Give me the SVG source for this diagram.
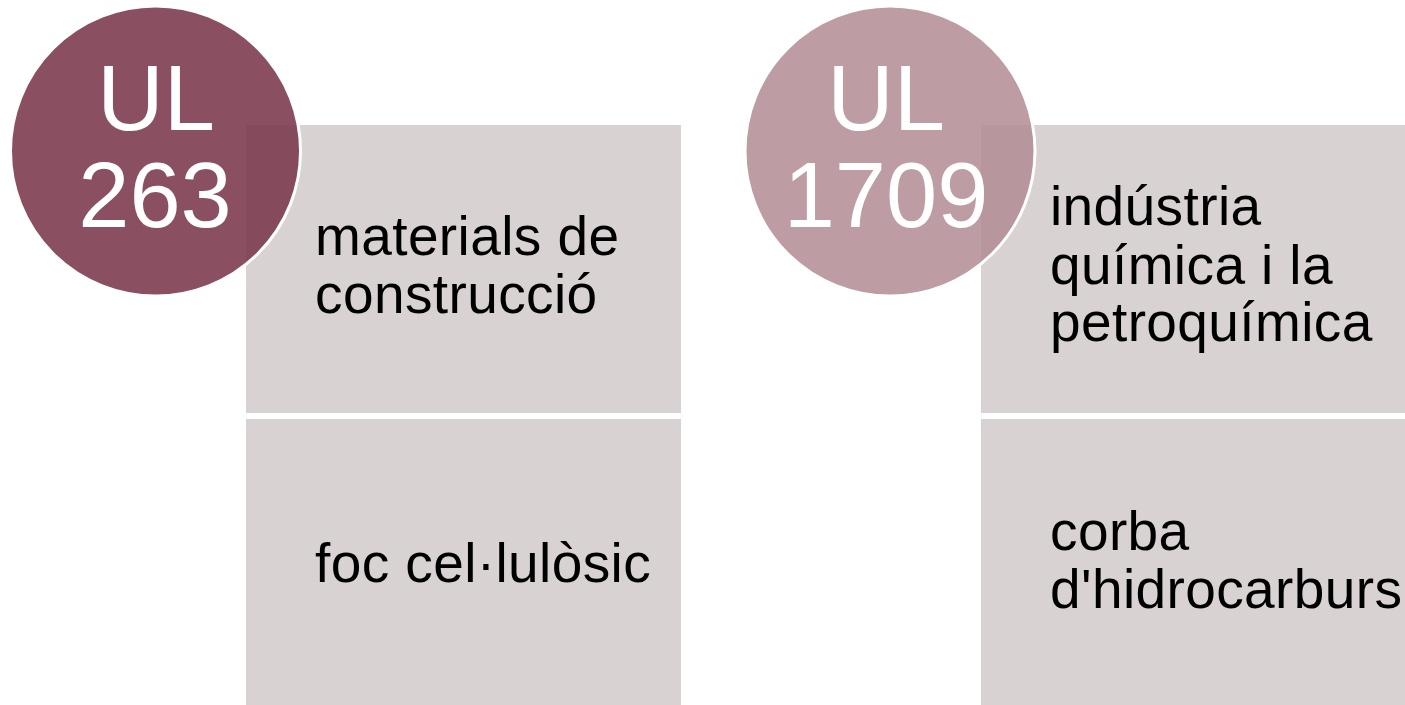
<svg xmlns="http://www.w3.org/2000/svg" width="1405" height="705" viewBox="0 0 1405 705">
<style>
.box{fill:#D8D2D2}
.circ{stroke:#FFFFFF;stroke-width:3}
.c1{fill:#79364A;fill-opacity:0.87}
.c2{fill:#B38D95;fill-opacity:0.87}
.ct{font-family:"Liberation Sans",Arial,sans-serif;font-size:92px;fill:#FFFFFF;text-anchor:middle}
.bt{font-family:"Liberation Sans",Arial,sans-serif;font-size:55px;letter-spacing:0.4px;fill:#000000}
</style>
<rect width="1405" height="705" fill="#FFFFFF"/>
<g id="box-ul263-materials"><rect class="box" x="246" y="125" width="435" height="288"/>
<text class="bt" x="315" y="255">materials de</text><text class="bt" x="315" y="313">construcció</text></g>
<g id="box-ul263-foc"><rect class="box" x="246" y="419" width="435" height="286"/>
<text class="bt" x="315" y="582">foc cel·lulòsic</text></g>
<g id="box-ul1709-industria"><rect class="box" x="981" y="125" width="424" height="288"/>
<text class="bt" x="1050" y="225">indústria</text><text class="bt" x="1050" y="284">química i la</text><text class="bt" x="1050" y="341">petroquímica</text></g>
<g id="box-ul1709-corba"><rect class="box" x="981" y="419" width="424" height="286"/>
<text class="bt" x="1050" y="550">corba</text><text class="bt" x="1050" y="608">d'hidrocarburs</text></g>
<g id="circle-ul263"><circle class="circ c1" cx="155.5" cy="151" r="145"/>
<text class="ct" x="156" y="130">UL</text><text class="ct" x="155" y="227">263</text></g>
<g id="circle-ul1709"><circle class="circ c2" cx="890" cy="151" r="145"/>
<text class="ct" x="886" y="130">UL</text><text class="ct" x="886" y="227">1709</text></g>
<g id="connectors"></g>
</svg>
